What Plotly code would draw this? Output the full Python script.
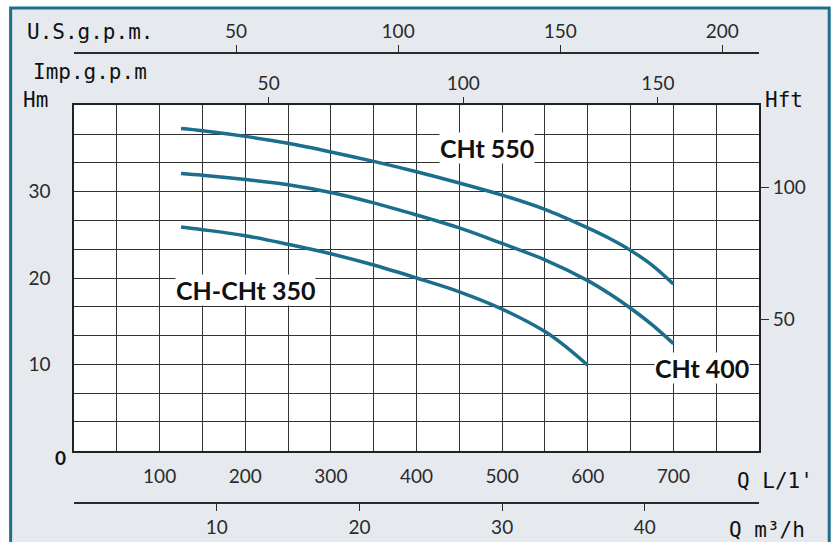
import plotly.graph_objects as go

# ---------------- data ----------------
flow_cht550 = [125, 150, 200, 250, 300, 350, 400, 450, 500, 550, 600, 625, 650, 675, 700]
head_cht550 = [37.3, 37.05, 36.4, 35.6, 34.6, 33.5, 32.3, 31.0, 29.6, 27.95, 25.8, 24.6, 23.2, 21.5, 19.3]
flow_cht400 = [125, 150, 200, 250, 300, 350, 400, 450, 500, 550, 600, 625, 650, 675, 700]
head_cht400 = [32.1, 31.9, 31.4, 30.8, 29.9, 28.7, 27.3, 25.8, 24.0, 22.1, 19.7, 18.2, 16.5, 14.6, 12.4]
flow_ch350 = [125, 150, 200, 250, 300, 350, 400, 450, 500, 550, 575, 600]
head_ch350 = [25.9, 25.6, 24.9, 23.9, 22.8, 21.5, 20.0, 18.4, 16.4, 13.8, 12.0, 9.9]

series_names = ["CHt 550", "CHt 400", "CH-CHt 350"]

x_max_lpm = 800
y_max_m = 40
lpm_ticks = [100, 200, 300, 400, 500, 600, 700]
m_ticks = [10, 20, 30]
ft_ticks = [50, 100]
imp_ticks = [50, 100, 150]
us_ticks = [50, 100, 150, 200]
m3h_ticks = [10, 20, 30, 40]

M_TO_FT = 3.28084
IMP_GAL_L = 4.54609
US_GAL_L = 3.78541

# ---------------- style ----------------
BG = "#e6eaef"
TEAL = "#1b6e8c"
BORDER = "#1f6e8c"
INK = "#2b2b2b"
GRID = "#333333"
NUM_FONT = dict(family="Lato", size=19, color=INK)
LBL_FONT = dict(family="DejaVu Sans Mono", size=21, color="#111111")
CURVE_FONT = dict(family="Lato", size=25, color="#111111", weight="bold")

fig = go.Figure()

for name, xs, ys in [
    (series_names[0], flow_cht550, head_cht550),
    (series_names[1], flow_cht400, head_cht400),
    (series_names[2], flow_ch350, head_ch350),
]:
    fig.add_trace(go.Scatter(x=xs, y=ys, mode="lines", name=name,
                             line=dict(color=TEAL, width=3.5, shape="spline", smoothing=1.0),
                             showlegend=False, hoverinfo="skip"))

# empty traces to bind secondary axes
for xa, ya in [("x2", "y"), ("x3", "y"), ("x4", "y"), ("x", "y2")]:
    fig.add_trace(go.Scatter(x=[], y=[], xaxis=xa, yaxis=ya, showlegend=False, hoverinfo="skip"))

# grid ticks every 50 L/min, labels every 100
x_grid = list(range(0, x_max_lpm + 1, 50))
x_text = [str(v) if v in lpm_ticks else "" for v in x_grid]
y_grid = [k * 10 / 3 for k in range(13)]
y_text = [str(int(round(v))) if int(round(v)) in m_ticks and abs(v - round(v)) < 1e-6 else "" for v in y_grid]

y_dom = [0.1162, 0.8838]

fig.update_layout(
    width=836, height=542,
    margin=dict(l=74, r=77, t=53, b=39, autoexpand=False),
    paper_bgcolor=BG, plot_bgcolor="white",
    xaxis=dict(range=[0, x_max_lpm], tickvals=x_grid, ticktext=x_text,
               showgrid=True, gridcolor=GRID, gridwidth=1, zeroline=False,
               showline=True, linecolor="#222222", linewidth=1.5, mirror=True,
               ticks="", tickfont=NUM_FONT, ticklabelstandoff=8, automargin=False),
    yaxis=dict(range=[0, y_max_m], domain=y_dom, tickvals=y_grid, ticktext=y_text,
               showgrid=True, gridcolor=GRID, gridwidth=1, zeroline=False,
               showline=True, linecolor="#222222", linewidth=1.5, mirror=True,
               ticks="", tickfont=NUM_FONT, ticklabelstandoff=18, automargin=False),
    yaxis2=dict(range=[0, y_max_m * M_TO_FT], overlaying="y", side="right", anchor="x",
                tickvals=ft_ticks, ticks="outside", ticklen=9, tickcolor=INK, tickwidth=1,
                showgrid=False, zeroline=False, showline=False, tickfont=NUM_FONT, automargin=False),
    xaxis2=dict(range=[0, x_max_lpm / IMP_GAL_L], overlaying="x", side="top", anchor="y",
                tickvals=imp_ticks, ticks="outside", ticklen=7, tickcolor=INK, tickwidth=1,
                showgrid=False, zeroline=False, showline=False, tickfont=NUM_FONT, automargin=False),
    xaxis3=dict(range=[0, x_max_lpm / US_GAL_L], overlaying="x", side="top", anchor="free", position=1,
                tickvals=us_ticks, ticks="outside", ticklen=7, tickcolor=INK, tickwidth=1,
                showgrid=False, zeroline=False, showline=True, linecolor=INK, linewidth=1.5,
                tickfont=NUM_FONT, automargin=False),
    xaxis4=dict(range=[0, x_max_lpm * 60 / 1000], overlaying="x", side="bottom", anchor="free", position=0,
                tickvals=m3h_ticks, ticks="outside", ticklen=7, tickcolor=INK, tickwidth=1,
                showgrid=False, zeroline=False, showline=True, linecolor=INK, linewidth=1.5,
                tickfont=NUM_FONT, automargin=False),
)

# frame: white outside, teal border (open at bottom)
xl, xr, yt, yb = -0.0925, 1.1025, 1.1, -0.2
shapes = [
    dict(type="rect", xref="paper", yref="paper", x0=-0.2, x1=1.3, y0=yt, y1=1.3,
         fillcolor="white", line=dict(width=0)),
    dict(type="rect", xref="paper", yref="paper", x0=-0.2, x1=xl, y0=yb, y1=1.3,
         fillcolor="white", line=dict(width=0)),
    dict(type="rect", xref="paper", yref="paper", x0=xr, x1=1.3, y0=yb, y1=1.3,
         fillcolor="white", line=dict(width=0)),
    dict(type="path", xref="paper", yref="paper",
         path=f"M {xl},{yb} L {xl},{yt} L {xr},{yt} L {xr},{yb}",
         line=dict(color=BORDER, width=3)),
]
fig.update_layout(shapes=shapes)

ann = []
# curve labels
for txt, x, y in [(series_names[0], 482, 35.0), (series_names[2], 200, 18.6), (series_names[1], 734, 9.6)]:
    ann.append(dict(text=txt, x=x, y=y, xref="x", yref="y", showarrow=False,
                    font=CURVE_FONT, bgcolor="white", borderpad=0))
# unit labels
for txt, x, y in [
    ("U.S.g.p.m.", 0.023, 1.047),
    ("Imp.g.p.m", 0.023, 0.958),
    ("Hm", -0.056, 0.896),
    ("Hft", 1.037, 0.896),
    ("Q L/1'", 1.024, 0.049),
    ("Q m³/h", 1.012, -0.06),
]:
    ann.append(dict(text=txt, x=x, y=y, xref="paper", yref="paper", showarrow=False,
                    font=LBL_FONT, xanchor="center", yanchor="middle"))
ann.append(dict(text="<b>0</b>", x=-0.0306, y=0.0711, xref="paper", yref="paper", showarrow=False,
                font=dict(family="Lato", size=19, color="#111111")))
fig.update_layout(annotations=ann)

fig.write_html("out.html", config={"displayModeBar": False})
with open("out.html", "r", encoding="utf-8") as f:
    html = f.read()
html = html.replace("<head>", "<head><style>html,body{margin:0;padding:0;overflow:hidden;}</style>", 1)
with open("out.html", "w", encoding="utf-8") as f:
    f.write(html)
